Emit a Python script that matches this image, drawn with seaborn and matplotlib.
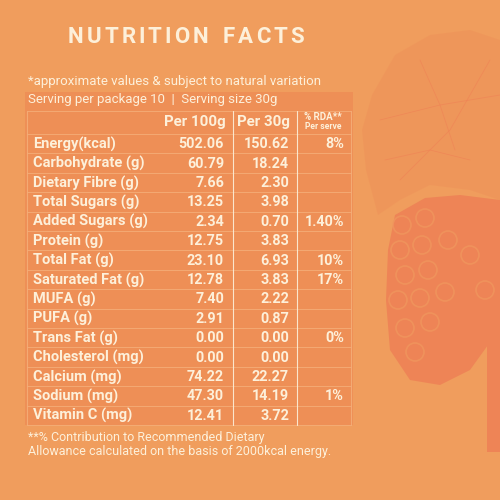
import matplotlib
matplotlib.use("Agg")
import matplotlib.pyplot as plt
import seaborn as sns
from matplotlib.patches import Rectangle, Circle, Polygon

# ---- data ----
nutrients = ["Energy(kcal)", "Carbohydrate (g)", "Dietary Fibre (g)", "Total Sugars (g)",
             "Added Sugars (g)", "Protein (g)", "Total Fat (g)", "Saturated Fat (g)",
             "MUFA (g)", "PUFA (g)", "Trans Fat (g)", "Cholesterol (mg)",
             "Calcium (mg)", "Sodium (mg)", "Vitamin C (mg)"]
per_100g = ["502.06", "60.79", "7.66", "13.25", "2.34", "12.75", "23.10", "12.78",
            "7.40", "2.91", "0.00", "0.00", "74.22", "47.30", "12.41"]
per_30g = ["150.62", "18.24", "2.30", "3.98", "0.70", "3.83", "6.93", "3.83",
           "2.22", "0.87", "0.00", "0.00", "22.27", "14.19", "3.72"]
rda = ["8%", "", "", "", "1.40%", "", "10%", "17%", "", "", "0%", "", "", "1%", ""]
col_headers = ["Per 100g", "Per 30g"]

title = "NUTRITION FACTS"
note_top = "*approximate values & subject to natural variation"
serving = "Serving per package 10  |  Serving size 30g"
note_bottom = ["**% Contribution to Recommended Dietary",
               "Allowance calculated on the basis of 2000kcal energy."]

# ---- style ----
sns.set_theme(style="white")
plt.rcParams['font.family'] = ['Roboto', 'DejaVu Sans']

BG = "#F09D5D"
PANEL = "#EE8F56"
GRAPE = "#EE8456"
TXT = "#FDF0DA"
LINE = "#F4AE78"

fig = plt.figure(figsize=(5, 5), dpi=100)
fig.patch.set_facecolor(BG)
ax = fig.add_axes([0, 0, 1, 1])
ax.set_xlim(0, 500)
ax.set_ylim(500, 0)
ax.axis("off")
ax.set_facecolor(BG)

# decorative grape bunch (background illustration)
leaf = [(372, 95), (395, 55), (430, 35), (470, 30), (500, 40), (500, 200),
        (470, 190), (430, 185), (400, 200), (378, 215), (366, 170), (362, 130)]
ax.add_patch(Polygon(leaf, closed=True, facecolor="#EE9058", alpha=0.5, lw=0, zorder=0))
veins = [[(380, 120), (440, 105), (500, 95)], [(400, 180), (450, 130), (490, 60)],
         [(385, 160), (430, 150), (470, 160)], [(420, 60), (440, 105), (455, 150)]]
for v in veins:
    ax.plot([p[0] for p in v], [p[1] for p in v], color=GRAPE, lw=0.6, alpha=0.7, zorder=0)
cluster = [(395, 215), (425, 198), (460, 195), (500, 200), (500, 330), (488, 345),
           (470, 370), (440, 385), (410, 380), (390, 350), (386, 300), (388, 250)]
ax.add_patch(Polygon(cluster, closed=True, facecolor=GRAPE, lw=0, zorder=0))
berries_x = [402, 425, 400, 422, 448, 405, 428, 398, 420, 445, 405, 430, 415, 470, 485]
berries_y = [225, 218, 250, 245, 240, 275, 270, 300, 298, 292, 328, 322, 352, 255, 290]
for bx, by in zip(berries_x, berries_y):
    ax.add_patch(Circle((bx, by), 9, facecolor="none", edgecolor="#F0975E", lw=1.2,
                        alpha=0.75, zorder=0))
ax.add_patch(Rectangle((487, 330), 13, 122, facecolor=GRAPE, lw=0, zorder=0))

# table panel
left, right = 27, 351
top_panel, header_top = 92, 111
row0 = 134
rh = 19.4
n = len(nutrients)
bottom = row0 + rh * n
ax.add_patch(Rectangle((left - 2, top_panel), right - left + 4, bottom - top_panel,
                       facecolor=PANEL, lw=0, zorder=1))

# grid lines
for i in range(n + 1):
    y = row0 + rh * i
    ax.plot([left, right], [y, y], color=LINE, lw=0.6, zorder=2)
ax.plot([left, right], [header_top, header_top], color=LINE, lw=0.6, zorder=2)
for x in [left, 233, 297, right]:
    ax.plot([x, x], [header_top, bottom], color=LINE if x in (left, right) else TXT,
            lw=0.8, alpha=0.9, zorder=2)

# title with letter spacing
fig.canvas.draw()
renderer = fig.canvas.get_renderer()
title_kw = dict(color=TXT, fontsize=16, fontweight="bold", va="center", ha="left", zorder=3)
widths = []
for ch in title:
    t = ax.text(0, 0, ch if ch != " " else "N", **title_kw)
    w = t.get_window_extent(renderer).width
    widths.append(w * (0.55 if ch == " " else 1.0))
    t.remove()
track = 3.0
total = sum(widths) + track * (len(title) - 1)
x = 186 - total / 2
for ch, w in zip(title, widths):
    if ch != " ":
        ax.text(x, 37, ch, **title_kw)
    x += w + track

ax.text(28, 81, note_top, color=TXT, fontsize=9.5, ha="left", va="center", zorder=3)
ax.text(28, 100, serving, color=TXT, fontsize=9.5, ha="left", va="center", zorder=3)

# header
ax.text(226, 122, col_headers[0], color=TXT, fontsize=10.8, fontweight="bold",
        ha="right", va="center", zorder=3)
ax.text(290, 122, col_headers[1], color=TXT, fontsize=10.8, fontweight="bold",
        ha="right", va="center", zorder=3)
ax.text(323, 117.5, "% RDA**", color=TXT, fontsize=7, fontweight="bold",
        ha="center", va="center", zorder=3)
ax.text(323, 126.5, "Per serve", color=TXT, fontsize=6.2, fontweight="bold",
        ha="center", va="center", zorder=3)

# rows
for i, (name, a, b, c) in enumerate(zip(nutrients, per_100g, per_30g, rda)):
    y = row0 + rh * i + rh / 2 + 0.5
    ax.text(33, y, name, color=TXT, fontsize=10.5, fontweight="bold",
            ha="left", va="center", zorder=3)
    ax.text(224, y, a, color=TXT, fontsize=10.4, fontweight="bold",
            ha="right", va="center", zorder=3)
    ax.text(289, y, b, color=TXT, fontsize=10.4, fontweight="bold",
            ha="right", va="center", zorder=3)
    if c:
        ax.text(344, y, c, color=TXT, fontsize=10.4, fontweight="bold",
                ha="right", va="center", zorder=3)

for j, line in enumerate(note_bottom):
    ax.text(28, 437 + j * 14, line, color=TXT, fontsize=9, ha="left", va="center", zorder=3)

fig.savefig("out.png", dpi=100, facecolor=BG)
